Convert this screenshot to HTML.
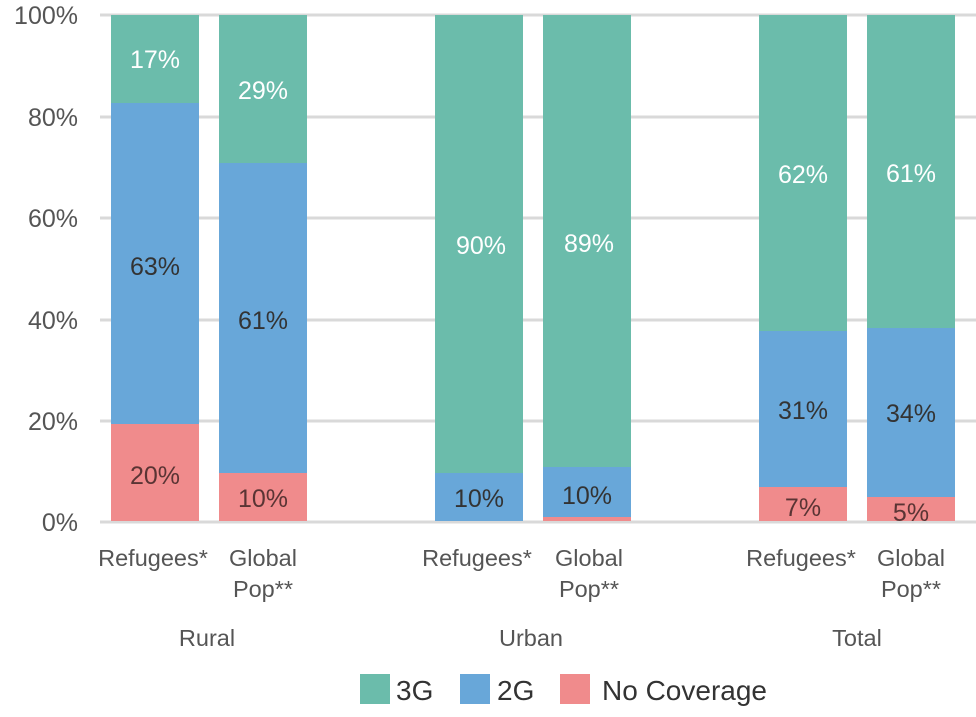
<!DOCTYPE html>
<html><head><style>body{margin:0;background:#fff}svg{display:block;font-family:"Liberation Sans",sans-serif}</style></head><body>
<svg width="976" height="717" xmlns="http://www.w3.org/2000/svg">
<g stroke="#d9d9d9" stroke-width="3">
<line x1="100" x2="976" y1="15" y2="15"/><line x1="100" x2="976" y1="117" y2="117"/><line x1="100" x2="976" y1="218" y2="218"/><line x1="100" x2="976" y1="320" y2="320"/><line x1="100" x2="976" y1="421" y2="421"/><line x1="100" x2="976" y1="522" y2="522"/>
</g>
<g font-size="25" fill="#555" text-anchor="end">
<text x="78" y="24">100%</text><text x="78" y="126">80%</text><text x="78" y="227">60%</text><text x="78" y="329">40%</text><text x="78" y="430">20%</text><text x="78" y="531">0%</text>
</g>
<g>
<rect x="111" y="15" width="88" height="88" fill="#6bbcab"/><rect x="111" y="103" width="88" height="321" fill="#68a7d9"/><rect x="111" y="424" width="88" height="97" fill="#f08b8c"/>
<rect x="219" y="15" width="88" height="148" fill="#6bbcab"/><rect x="219" y="163" width="88" height="310" fill="#68a7d9"/><rect x="219" y="473" width="88" height="48" fill="#f08b8c"/>
<rect x="435" y="15" width="88" height="458" fill="#6bbcab"/><rect x="435" y="473" width="88" height="48" fill="#68a7d9"/>
<rect x="543" y="15" width="88" height="452" fill="#6bbcab"/><rect x="543" y="467" width="88" height="50" fill="#68a7d9"/><rect x="543" y="517" width="88" height="4" fill="#f08b8c"/>
<rect x="759" y="15" width="88" height="316" fill="#6bbcab"/><rect x="759" y="331" width="88" height="156" fill="#68a7d9"/><rect x="759" y="487" width="88" height="34" fill="#f08b8c"/>
<rect x="867" y="15" width="88" height="313" fill="#6bbcab"/><rect x="867" y="328" width="88" height="169" fill="#68a7d9"/><rect x="867" y="497" width="88" height="24" fill="#f08b8c"/>
</g>
<g font-size="25" text-anchor="middle">
<g fill="#fff"><text x="155" y="68">17%</text><text x="263" y="99">29%</text><text x="481" y="254">90%</text><text x="589" y="252">89%</text><text x="803" y="183">62%</text><text x="911" y="182">61%</text></g>
<g fill="#333"><text x="155" y="275">63%</text><text x="263" y="329">61%</text><text x="479" y="507">10%</text><text x="587" y="504">10%</text><text x="803" y="419">31%</text><text x="911" y="422">34%</text></g>
<g fill="#5a3434"><text x="155" y="484">20%</text><text x="263" y="507">10%</text><text x="803" y="516">7%</text><text x="911" y="521">5%</text></g>
</g>
<g font-size="23.5" fill="#555" text-anchor="middle">
<text x="153" y="566">Refugees*</text><text x="263" y="566">Global</text><text x="263" y="597">Pop**</text>
<text x="477" y="566">Refugees*</text><text x="589" y="566">Global</text><text x="589" y="597">Pop**</text>
<text x="801" y="566">Refugees*</text><text x="911" y="566">Global</text><text x="911" y="597">Pop**</text>
<text x="207" y="646">Rural</text><text x="531" y="646">Urban</text><text x="857" y="646">Total</text>
</g>
<g font-size="28" fill="#333">
<rect x="360" y="674" width="30" height="30" fill="#6bbcab"/><text x="396" y="700">3G</text>
<rect x="460" y="674" width="30" height="30" fill="#68a7d9"/><text x="497" y="700">2G</text>
<rect x="560" y="674" width="30" height="30" fill="#f08b8c"/><text x="602" y="700">No Coverage</text>
</g>
</svg>
</body></html>
